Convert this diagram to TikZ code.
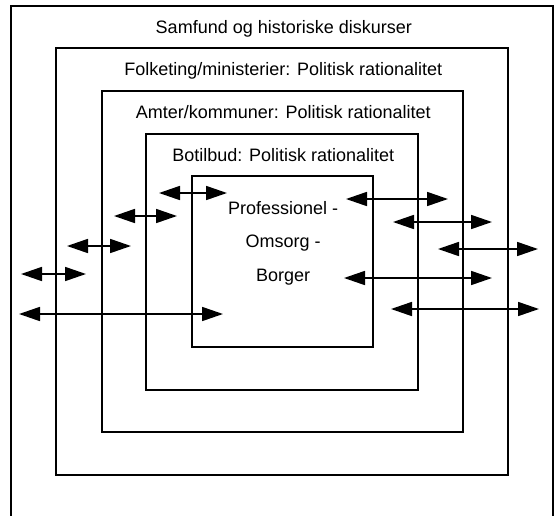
\documentclass[tikz,border=0pt]{standalone}
\usepackage{fontspec}
\setmainfont{Liberation Sans}
\usetikzlibrary{positioning,arrows.meta}
\tikzstyle{layer} = [draw, line width=2.1pt, inner sep=0pt, outer sep=0pt]
\tikzstyle{layertext} = [inner sep=0pt, text height=13pt, text depth=4pt, font=\fontsize{18}{27}\selectfont]
\tikzstyle{twoway} = [line width=1.7pt, {Triangle[length=21pt,width=14pt]}-{Triangle[length=21pt,width=14pt]}]

\begin{document}
\begin{tikzpicture}[x=1pt,y=-1pt]
           \clip (0,0) rectangle (555,515);
           \node[layer, minimum width=542pt, minimum height=511.9pt] (samfund) at (281.8,261.65) {};
           \node[layer, minimum width=452.3pt, minimum height=426.7pt] (folketing) at (281.85,261.65) {};
           \node[layer, minimum width=360.9pt, minimum height=341.6pt] (amter) at (282.25,261.5) {};
           \node[layer, minimum width=271.7pt, minimum height=255.7pt] (botilbud) at (281.85,262.15) {};
           \node[layer, minimum width=180.8pt, minimum height=171.3pt] (omsorg) at (282.2,261.65) {};
           \node[layertext, xshift=2pt] (samfundtxt) [below = 14.4pt of samfund.north] {Samfund og historiske diskurser};
           \node[layertext, xshift=1.5pt] (folketingtxt) [below = 14.4pt of folketing.north] {Folketing/ministerier: Politisk rationalitet};
           \node[layertext, xshift=1pt] (amtertxt) [below = 14.4pt of amter.north] {Amter/kommuner: Politisk rationalitet};
           \node[layertext, xshift=1.5pt] (botilbudtxt) [below = 14.4pt of botilbud.north] {Botilbud: Politisk rationalitet};
           \node[inner sep=0pt, align=center, font=\fontsize{18}{33.75}\selectfont, xshift=1pt] (omsorgtxt) [below = 25pt of omsorg.north] {Professionel -\\Omsorg -\\Borger};
           % arrows to the left
           \coordinate (l1s) at (159,193); \coordinate (l1e) at (227,193);
           \coordinate (l2s) at (114,216); \coordinate (l2e) at (177,216);
           \coordinate (l3s) at (67,246);  \coordinate (l3e) at (131,246);
           \coordinate (l4s) at (21,274);  \coordinate (l4e) at (86,274);
           \coordinate (l5s) at (19,314);  \coordinate (l5e) at (223,314);
           % arrows to the right
           \coordinate (r1s) at (346,199); \coordinate (r1e) at (448,199);
           \coordinate (r2s) at (393,222); \coordinate (r2e) at (492,222);
           \coordinate (r3s) at (438,249); \coordinate (r3e) at (538,249);
           \coordinate (r4s) at (344,278); \coordinate (r4e) at (492,278);
           \coordinate (r5s) at (391,309); \coordinate (r5e) at (539,309);
           \draw[twoway] (l1s) -- (l1e);
           \draw[twoway] (l2s) -- (l2e);
           \draw[twoway] (l3s) -- (l3e);
           \draw[twoway] (l4s) -- (l4e);
           \draw[twoway] (l5s) -- (l5e);
           \draw[twoway] (r1s) -- (r1e);
           \draw[twoway] (r2s) -- (r2e);
           \draw[twoway] (r3s) -- (r3e);
           \draw[twoway] (r4s) -- (r4e);
           \draw[twoway] (r5s) -- (r5e);
        \end{tikzpicture}
\end{document}
